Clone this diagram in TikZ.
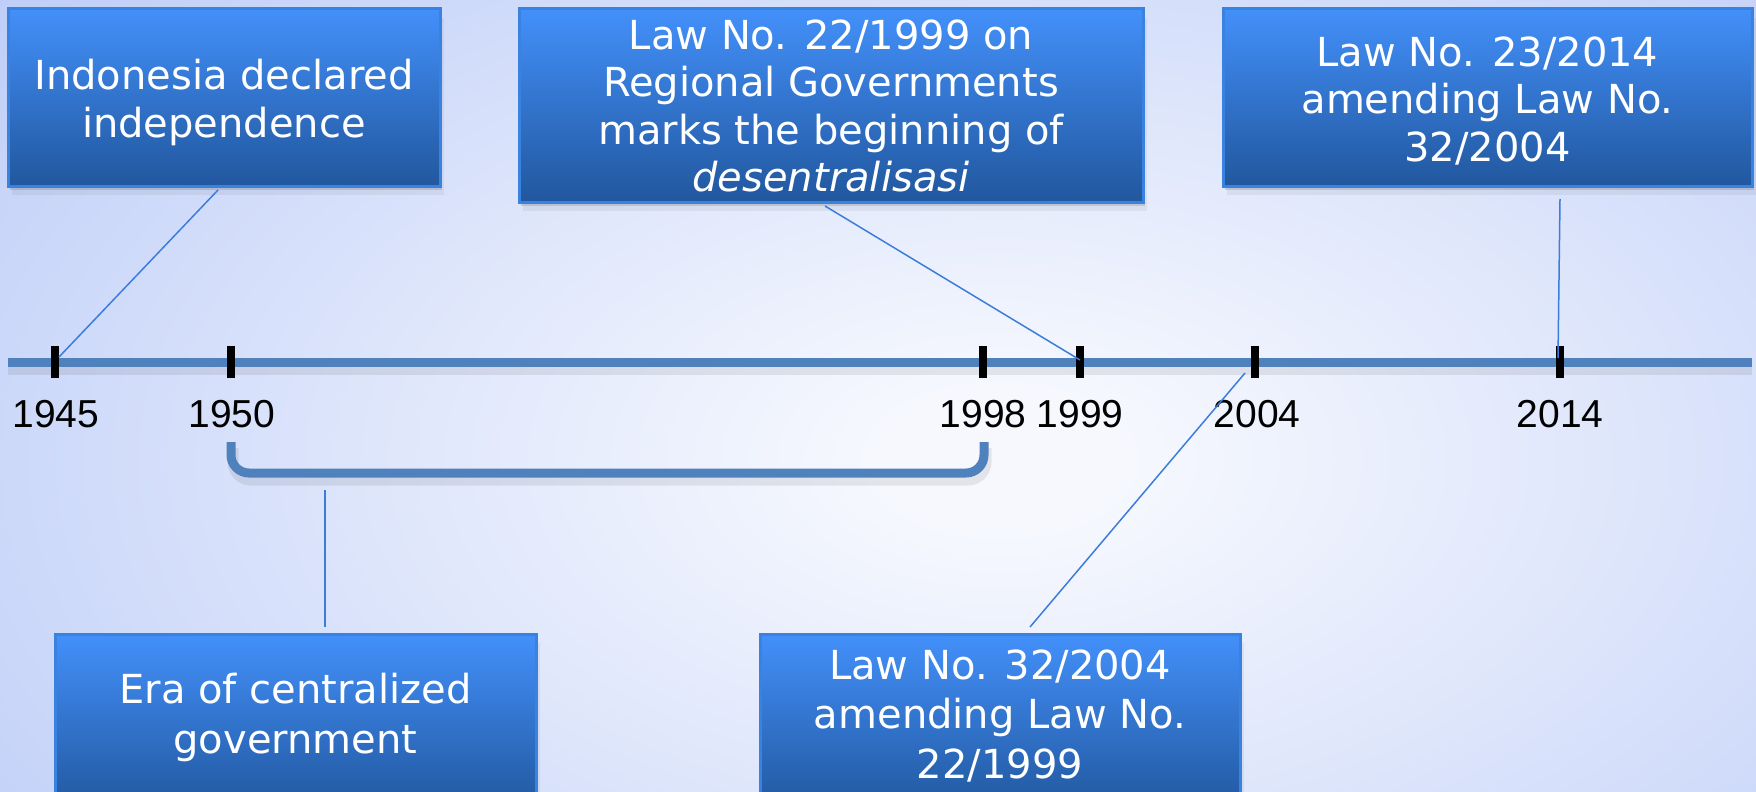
\documentclass[tikz,border=0pt]{standalone}
\usepackage{fontspec}
\setmainfont{DejaVu Sans}
\newfontfamily\yearfont{Liberation Sans}
\usetikzlibrary{shadows}
\definecolor{bgin}{RGB}{246,248,254}
\definecolor{bgout}{RGB}{176,195,246}
\definecolor{boxtop}{RGB}{67,144,250}
\definecolor{boxbot}{RGB}{33,87,158}
\definecolor{boxline}{RGB}{58,130,224}
\definecolor{axisblue}{RGB}{79,129,189}
\definecolor{connblue}{RGB}{60,125,220}
\pgfdeclareradialshading{bgshade}{\pgfpoint{0bp}{0bp}}{color(0bp)=(bgin); color(3bp)=(bgin); color(38bp)=(bgout); color(50bp)=(bgout)}
\begin{document}
\begin{tikzpicture}[x=1pt,y=-1pt,
  lawbox/.style={draw=boxline, line width=3pt, top color=boxtop, bottom color=boxbot,
    inner sep=0pt,
    drop shadow={shadow xshift=2pt, shadow yshift=-4pt, opacity=0.18, fill=black!70},
    drop shadow={shadow xshift=4pt, shadow yshift=-9pt, opacity=0.08, fill=black!70}},
  lawtext/.style={text=white, font=\fontsize{40}{47.5}\selectfont, align=center, inner sep=0pt},
  lawtextlow/.style={text=white, font=\fontsize{40}{49.5}\selectfont, align=center, inner sep=0pt},
  tickmark/.style={fill=black, minimum width=8pt, minimum height=32pt, inner sep=0pt, outer sep=0pt},
  yearlabel/.style={font=\yearfont\fontsize{39}{47}\selectfont, text=black, inner sep=0pt},
  axisline/.style={draw=axisblue, line width=9pt},
  axisshadow/.style={draw=black, opacity=0.08, line width=11pt},
  conn/.style={draw=connblue, line width=1.5pt}]

\useasboundingbox (0,0) rectangle (1756,792);
\clip (0,0) rectangle (1756,792);
\shade[shading=bgshade] (-50,-140) rectangle (2050,1060);

% timeline
\draw[axisshadow] (8,369) -- (1752,369);
\draw[axisline] (8,362) -- (1752,362);

% bracket
\draw[axisshadow, rounded corners=18pt] (233,448) -- (233,480) -- (986,480) -- (986,448);
\draw[axisline, rounded corners=18pt] (231,442) -- (231,473) -- (984,473) -- (984,442);

% ticks
\node[tickmark] (t1945) at (55,362) {};
\node[tickmark] (t1950) at (231,362) {};
\node[tickmark] (t1998) at (983,362) {};
\node[tickmark] (t1999) at (1080,362) {};
\node[tickmark] (t2004) at (1255,362) {};
\node[tickmark] (t2014) at (1560,362) {};

% year labels
\node[yearlabel] (y1945) at (56,414.5) {1945};
\node[yearlabel] (y1950) at (232,414.5) {1950};
\node[yearlabel] (y1998) at (983,414.5) {1998};
\node[yearlabel] (y1999) at (1080,414.5) {1999};
\node[yearlabel] (y2004) at (1257,414.5) {2004};
\node[yearlabel] (y2014) at (1560,414.5) {2014};

% boxes
\node[lawbox, minimum width=432pt, minimum height=177pt] (b1) at (224,97.5) {};
\node[lawtext] (b1t) at (224,102.7) {Indonesia declared\\independence};
\node[lawbox, minimum width=624pt, minimum height=193pt] (b2) at (831,105.5) {};
\node[lawtext] (b2t) at (831,106)
  {Law No. 22/1999 on\\Regional Governments\\marks the beginning of\\\textit{desentralisasi}};
\node[lawbox, minimum width=529pt, minimum height=177pt] (b3) at (1487.5,97.5) {};
\node[lawtext] (b3t) at (1487.5,100.8) {Law No. 23/2014\\amending Law No.\\32/2004};
\node[lawbox, minimum width=481pt, minimum height=177pt] (b4) at (295.5,722.5) {};
\node[lawtextlow] (b4t) at (295.5,717.5) {Era of centralized\\government};
\node[lawbox, minimum width=480pt, minimum height=177pt] (b5) at (1000,722.5) {};
\node[lawtextlow] (b5t) at (1000,715.6) {Law No. 32/2004\\amending Law No.\\22/1999};

% connector end points
\coordinate (c1a) at (218,190);
\coordinate (c1b) at (59,357);
\coordinate (c2a) at (825,206);
\coordinate (c2b) at (1080,360);
\coordinate (c3a) at (1560,199);
\coordinate (c3b) at (1558,358);
\coordinate (c4a) at (325,490);
\coordinate (c4b) at (325,627);
\coordinate (c5a) at (1030,627);
\coordinate (c5b) at (1245,373);

\draw[conn] (c1a) -- (c1b);
\draw[conn] (c2a) -- (c2b);
\draw[conn] (c3a) -- (c3b);
\draw[conn] (c4a) -- (c4b);
\draw[conn] (c5a) -- (c5b);
\end{tikzpicture}
\end{document}
